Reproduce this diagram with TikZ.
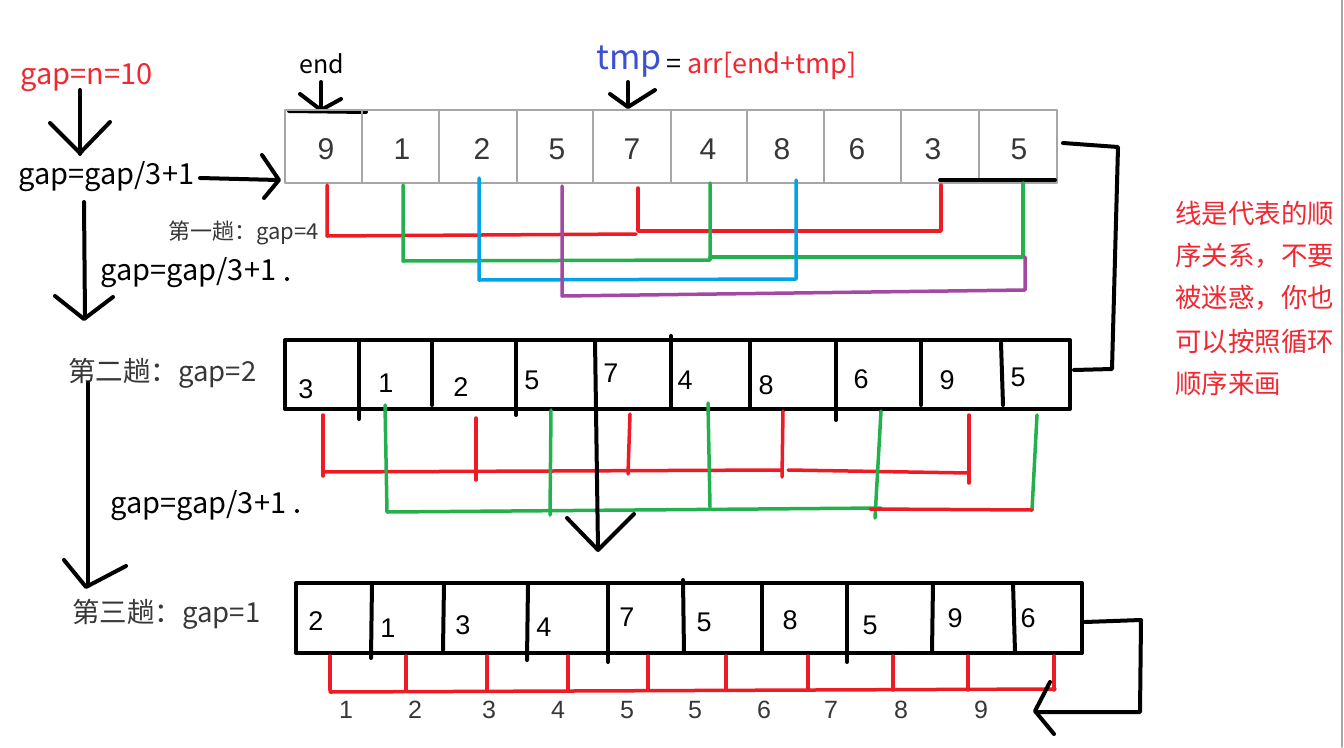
\documentclass[tikz,border=0pt]{standalone}
\usepackage{fontspec}
\setmainfont{Noto Sans CJK SC}
\newfontfamily\digitfont{Liberation Sans}
\definecolor{lred}{RGB}{237,28,36}
\definecolor{lgreen}{RGB}{34,177,76}
\definecolor{lblue}{RGB}{0,162,232}
\definecolor{lpurple}{RGB}{163,73,164}
\definecolor{tmpblue}{RGB}{60,80,210}
\definecolor{txtred}{RGB}{240,40,50}
\definecolor{txtgray}{RGB}{55,55,55}
\begin{document}
\begin{tikzpicture}[x=1pt,y=-1pt,line cap=round,line join=round,
  hand/.style={line width=4pt,black},
  rl/.style={line width=3.5pt,lred},
  gl/.style={line width=3.5pt,lgreen},
  bl/.style={line width=3.5pt,lblue},
  pl/.style={line width=3.5pt,lpurple},
  lbl/.style={anchor=west,inner sep=0pt,text=black},
  topnum/.style={inner sep=0pt,text=txtgray,font=\digitfont\fontsize{30}{30}\selectfont},
  arrnum/.style={inner sep=0pt,text=black,font=\digitfont\fontsize{27}{27}\selectfont},
  idxnum/.style={inner sep=0pt,text=txtgray,font=\digitfont\fontsize{25}{25}\selectfont},
  redtxt/.style={anchor=west,inner sep=0pt,text=txtred,font=\fontsize{26.5}{26.5}\selectfont}]
\useasboundingbox (0,0) rectangle (1344,747);
\fill[white] (0,0) rectangle (1344,747);
\draw[gray!70,line width=1.5pt] (1342,0) -- (1342,747);

% ---------- left column ----------
\node[lbl,text=txtred,font=\fontsize{29}{29}\selectfont] (gapn) at (20,78) {gap=n=10};
\node[lbl,font=\fontsize{29}{29}\selectfont] (g1) at (18,177) {gap=gap/3+1};
\node[lbl,font=\fontsize{22}{22}\selectfont,text=txtgray] (p1) at (168,233) {第一趟：gap=4};
\node[lbl,font=\fontsize{29}{29}\selectfont] (g2) at (100,273) {gap=gap/3+1};
\fill (287,279) circle (2pt);
\node[lbl,font=\fontsize{27.5}{27.5}\selectfont,text=txtgray] (p2) at (68,373) {第二趟：gap=2};
\node[lbl,font=\fontsize{29}{29}\selectfont] (g3) at (110,506) {gap=gap/3+1};
\fill (297,511) circle (2pt);
\node[lbl,font=\fontsize{27.5}{27.5}\selectfont,text=txtgray] (p3) at (72,614) {第三趟：gap=1};

\draw[hand] (80,90) -- (80,154);
\draw[hand] (50,123) -- (80,153) -- (110,122);
\draw[hand] (200,178) -- (278,180);
\draw[hand] (262,155) -- (279,180) -- (264,198);
\draw[hand] (84,202) -- (85,318);
\draw[hand] (55,296) -- (84,319) -- (113,297);
\draw[hand] (88,383) -- (88,586);
\draw[hand] (64,560) -- (86,587) -- (126,566);

% ---------- top array ----------
\node[inner sep=0pt,font=\fontsize{25}{25}\selectfont] (endlbl) at (322,64) {end};
\draw[hand] (321,82) -- (321,110);
\draw[hand] (300,94) -- (321,110) -- (341,99);
\draw[hand] (289,111) -- (366,112);
\node[inner sep=0pt,anchor=west,text=tmpblue,font=\fontsize{34}{34}\selectfont] (tmp) at (596,62) {tmp};
\node[inner sep=0pt,anchor=west,font=\fontsize{27}{27}\selectfont] (eq) at (666,66) {= \textcolor{txtred}{arr[end+tmp]}};
\draw[hand] (628,82) -- (628,106);
\draw[hand] (610,94) -- (628,107) -- (655,90);

\draw[gray!70,line width=2pt] (285,110) rectangle (1057,183);
\foreach \x in {362,439,517,593,671,747,824,901,979}
  \draw[gray!70,line width=2pt] (\x,110) -- (\x,183);
\node[topnum] (t1) at (326,149) {9};
\node[topnum] (t2) at (402,149) {1};
\node[topnum] (t3) at (482,149) {2};
\node[topnum] (t4) at (557,149) {5};
\node[topnum] (t5) at (632,149) {7};
\node[topnum] (t6) at (708,149) {4};
\node[topnum] (t7) at (782,149) {8};
\node[topnum] (t8) at (857,149) {6};
\node[topnum] (t9) at (933,149) {3};
\node[topnum] (t10) at (1019,149) {5};
\draw[hand] (940,180) -- (1055,180);

\draw[rl] (327,185) -- (327,236) -- (636,234);
\draw[rl] (638,188) -- (638,231) -- (941,231) -- (941,185);
\draw[gl] (403,185) -- (403,261) -- (710,260) -- (710,183);
\draw[gl] (710,257) -- (1023,257) -- (1023,183);
\draw[bl] (479,178) -- (479,280) -- (796,279) -- (796,180);
\draw[pl] (562,186) -- (562,296) -- (1025,290) -- (1025,257);

% connector top -> middle
\draw[hand] (1063,143) -- (1118,147) -- (1112,369) -- (1074,370);

% ---------- middle array ----------
\draw[hand] (285,340) rectangle (1070,409);
\draw[hand] (359,340) -- (359,419);
\draw[hand] (432,340) -- (432,405);
\draw[hand] (516,342) -- (516,415);
\draw[hand] (671,336) -- (671,408);
\draw[hand] (750,340) -- (750,408);
\draw[hand] (836,343) -- (836,420);
\draw[hand] (921,342) -- (921,405);
\draw[hand] (1001,343) -- (1003,405);
\node[arrnum] (m1) at (306,389) {3};
\node[arrnum] (m2) at (386,383) {1};
\node[arrnum] (m3) at (461,387) {2};
\node[arrnum] (m4) at (532,380) {5};
\node[arrnum] (m5) at (611,373) {7};
\node[arrnum] (m6) at (685,380) {4};
\node[arrnum] (m7) at (766,385) {8};
\node[arrnum] (m8) at (861,379) {6};
\node[arrnum] (m9) at (947,380) {9};
\node[arrnum] (m10) at (1018,377) {5};

\draw[rl] (323,415) -- (323,476);
\draw[rl] (323,472) -- (781,470);
\draw[rl] (476,418) -- (476,480);
\draw[rl] (630,414) -- (628,474);
\draw[rl] (783,411) -- (782,477);
\draw[rl] (788,470) -- (969,473);
\draw[rl] (969,415) -- (969,483);
\draw[gl] (385,405) -- (387,512) -- (881,508);
\draw[gl] (551,410) -- (550,515);
\draw[gl] (708,403) -- (710,507);
\draw[gl] (881,411) -- (875,518);
\draw[gl] (1037,415) -- (1032,510);
\draw[rl] (870,509) -- (1032,510);

% arrow middle -> bottom
\draw[hand] (595,340) -- (598,549);
\draw[hand] (567,518) -- (598,550) -- (634,514);

% ---------- bottom array ----------
\draw[hand] (296,583) rectangle (1082,653);
\draw[hand] (372,583) -- (371,658);
\draw[hand] (444,583) -- (443,650);
\draw[hand] (528,583) -- (527,660);
\draw[hand] (608,583) -- (608,662);
\draw[hand] (683,580) -- (684,653);
\draw[hand] (762,583) -- (762,653);
\draw[hand] (847,583) -- (847,662);
\draw[hand] (933,583) -- (932,652);
\draw[hand] (1013,583) -- (1015,652);
\node[arrnum] (b1) at (316,621) {2};
\node[arrnum] (b2) at (388,628) {1};
\node[arrnum] (b3) at (463,625) {3};
\node[arrnum] (b4) at (544,627) {4};
\node[arrnum] (b5) at (627,617) {7};
\node[arrnum] (b6) at (704,622) {5};
\node[arrnum] (b7) at (790,620) {8};
\node[arrnum] (b8) at (870,625) {5};
\node[arrnum] (b9) at (955,618) {9};
\node[arrnum] (b10) at (1028,618) {6};

\foreach \x in {330,406,487,568,648,726,808,893,968,1054}
  \draw[rl] (\x,656) -- (\x,690);
\draw[rl] (330,692) -- (1055,689);

\node[idxnum] (i1) at (346,710) {1};
\node[idxnum] (i2) at (415,710) {2};
\node[idxnum] (i3) at (489,710) {3};
\node[idxnum] (i4) at (558,710) {4};
\node[idxnum] (i5) at (627,710) {5};
\node[idxnum] (i6) at (695,710) {5};
\node[idxnum] (i7) at (764,710) {6};
\node[idxnum] (i8) at (831,710) {7};
\node[idxnum] (i9) at (901,710) {8};
\node[idxnum] (i10) at (981,710) {9};

\draw[hand] (1085,622) -- (1141,620) -- (1140,712) -- (1036,712);
\draw[hand] (1050,682) -- (1035,711) -- (1054,734);

% ---------- right note ----------
\node[redtxt] (n1) at (1175,213) {线是代表的顺};
\node[redtxt] (n2) at (1175,256) {序关系，不要};
\node[redtxt] (n3) at (1175,298) {被迷惑，你也};
\node[redtxt] (n4) at (1175,341) {可以按照循环};
\node[redtxt] (n5) at (1175,383) {顺序来画};
\end{tikzpicture}
\end{document}
